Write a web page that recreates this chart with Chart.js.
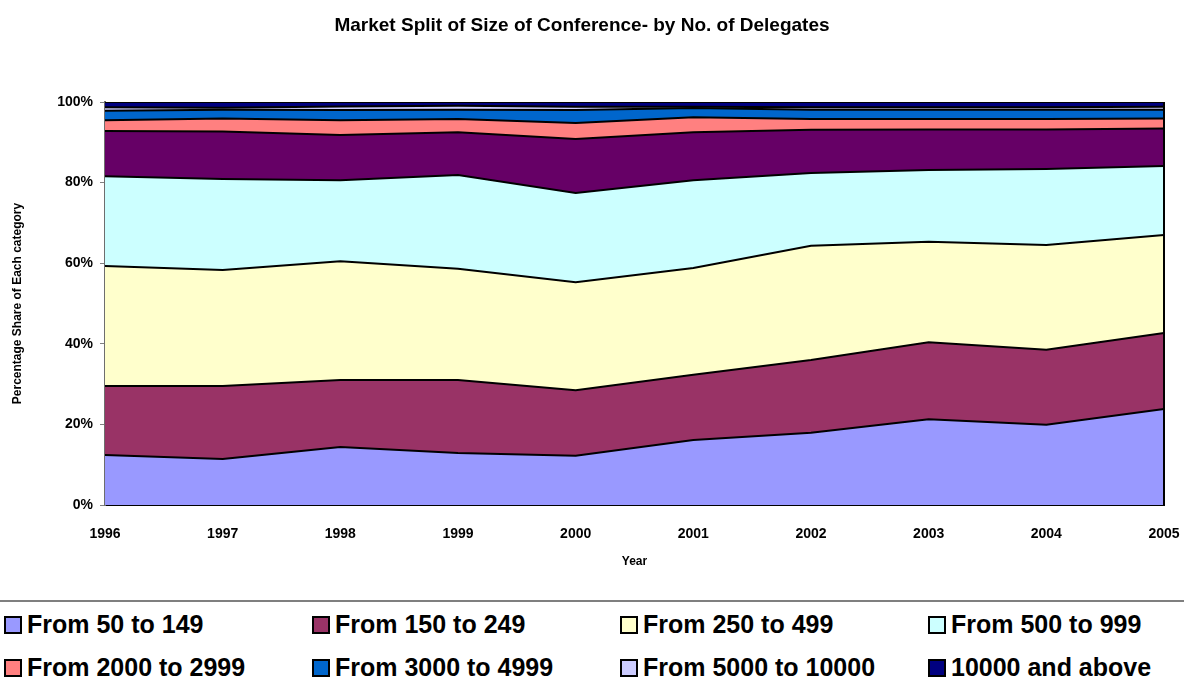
<!DOCTYPE html>
<html>
<head>
<meta charset="utf-8">
<script src="https://cdn.jsdelivr.net/npm/chart.js@4.4.1/dist/chart.umd.min.js"></script>
<style>
  html, body { margin: 0; padding: 0; background: #fff; }
  body { width: 1184px; height: 685px; position: relative; overflow: hidden; font-family: "Liberation Sans", Arial, sans-serif; }
  #wrap { position: absolute; left: 0; top: 0; width: 1184px; height: 590px; }
  #legend { position: absolute; left: 0; top: 600px; width: 1184px; height: 85px; border-top: 2px solid #7f7f7f; }
  .item { position: absolute; display: flex; align-items: center; font-size: 25px; font-weight: bold; color: #000; white-space: nowrap; }
  .box { width: 14px; height: 14px; border: 2px solid #000; margin-right: 5px; flex: none; }
</style>
</head>
<body>
<div id="wrap"><canvas id="chart" width="1184" height="590"></canvas></div>
<div id="legend"></div>
<script>
// Share of conferences (%) by delegate count, one band per size class
const years = ['1996', '1997', '1998', '1999', '2000', '2001', '2002', '2003', '2004', '2005'];
const yTicks = [0, 20, 40, 60, 80, 100];

const from50to149     = [12.4, 11.4, 14.4, 12.9, 12.2, 16.1, 17.9, 21.3, 19.9, 23.8];
const from150to249    = [17.1, 18.1, 16.6, 18.1, 16.3, 16.2, 18.1, 19.1, 18.6, 18.9];
const from250to499    = [29.8, 28.8, 29.5, 27.6, 26.8, 26.5, 28.3, 24.9, 26.0, 24.3];
const from500to999    = [22.3, 22.6, 20.1, 23.3, 22.1, 21.8, 18.1, 17.8, 18.9, 17.1];
const from1000to1999  = [11.2, 11.8, 11.2, 10.6, 13.4, 11.9, 10.7, 10.1,  9.8,  9.3];
const from2000to2999  = [ 2.7,  3.2,  3.7,  3.3,  4.0,  3.7,  2.7,  2.6,  2.6,  2.5];
const from3000to4999  = [ 2.3,  2.2,  2.5,  2.3,  3.2,  2.3,  2.3,  2.3,  2.3,  2.2];
const from5000to10000 = [ 0.9,  0.5,  0.9,  1.0,  0.8,  0.3,  0.6,  0.6,  0.6,  0.7];
const from10000up     = [ 1.3,  1.4,  1.1,  0.9,  1.2,  1.2,  1.3,  1.3,  1.3,  1.2];

const seriesLabels = ['From 50 to 149', 'From 150 to 249', 'From 250 to 499', 'From 500 to 999',
  'From 1000 to 1999', 'From 2000 to 2999', 'From 3000 to 4999', 'From 5000 to 10000', '10000 and above'];
const seriesData = [from50to149, from150to249, from250to499, from500to999, from1000to1999,
  from2000to2999, from3000to4999, from5000to10000, from10000up];
const seriesColors = ['#9999FF', '#993366', '#FFFFCC', '#CCFFFF', '#660066',
  '#FF8080', '#0066CC', '#CCCCFF', '#000080'];
// Bands listed in the key below the chart (two rows of four)
const legendSeries = [0, 1, 2, 3, 5, 6, 7, 8];

const FONT = '"Liberation Sans", Arial, sans-serif';

const datasets = seriesData.map((d, i) => ({
  label: seriesLabels[i],
  data: d,
  backgroundColor: seriesColors[i],
  borderColor: '#000',
  borderWidth: 2,
  pointRadius: 0,
  pointHoverRadius: 0,
  tension: 0,
  fill: i === 0 ? 'origin' : '-1'
}));

// Closing edge on the right side of the stacked areas
const edgePlugin = {
  id: 'edge',
  afterDatasetsDraw(chart) {
    const { ctx, chartArea: a } = chart;
    ctx.save();
    ctx.strokeStyle = '#000';
    ctx.lineWidth = 2;
    ctx.beginPath();
    ctx.moveTo(a.right, a.top);
    ctx.lineTo(a.right, a.bottom);
    ctx.stroke();
    ctx.restore();
  }
};

new Chart(document.getElementById('chart'), {
  type: 'line',
  data: { labels: years, datasets },
  plugins: [edgePlugin],
  options: {
    responsive: false,
    animation: false,
    events: [],
    layout: { padding: { left: 0, right: 20, top: 0, bottom: 10 } },
    plugins: {
      legend: { display: false },
      tooltip: { enabled: false },
      title: {
        display: true,
        text: 'Market Split of Size of Conference- by No. of Delegates',
        color: '#000',
        font: { family: FONT, size: 19, weight: 'bold' },
        padding: { top: 14, bottom: 65.2 }
      }
    },
    scales: {
      x: {
        offset: false,
        grid: { display: false },
        border: { display: true, color: '#000', width: 2 },
        ticks: { color: '#000', font: { family: FONT, size: 14, weight: 'bold' }, padding: 13, maxRotation: 0, autoSkip: false },
        title: { display: true, text: 'Year', color: '#000', font: { family: FONT, size: 12, weight: 'bold' }, padding: { top: 0, bottom: 11 } },
        afterFit(s) { s.height = 75; s.paddingLeft = 0; s.paddingRight = 0; }
      },
      y: {
        stacked: true,
        min: 0,
        max: 100,
        afterBuildTicks(s) { s.ticks = yTicks.map(v => ({ value: v })); },
        grid: { drawOnChartArea: false, drawTicks: true, tickLength: 5, color: '#808080', lineWidth: 1 },
        border: { display: true, color: '#6e6e6e', width: 2 },
        ticks: { color: '#000', font: { family: FONT, size: 14, weight: 'bold' }, padding: 7, callback: v => v + '%' },
        title: { display: true, text: 'Percentage Share of Each category', color: '#000', font: { family: FONT, size: 12, weight: 'bold' }, padding: { top: 10, bottom: 0 } },
        afterFit(s) { s.width = 105; }
      }
    }
  }
});

// Key: two rows of four entries
const legendEl = document.getElementById('legend');
legendSeries.forEach((idx, k) => {
  const col = k % 4, row = Math.floor(k / 4);
  const item = document.createElement('div');
  item.className = 'item';
  item.style.left = (4 + col * 308) + 'px';
  item.style.top = (row === 0 ? 8 : 51) + 'px';
  const box = document.createElement('span');
  box.className = 'box';
  box.style.background = seriesColors[idx];
  const txt = document.createElement('span');
  txt.textContent = seriesLabels[idx];
  item.appendChild(box);
  item.appendChild(txt);
  legendEl.appendChild(item);
});
</script>
</body>
</html>
